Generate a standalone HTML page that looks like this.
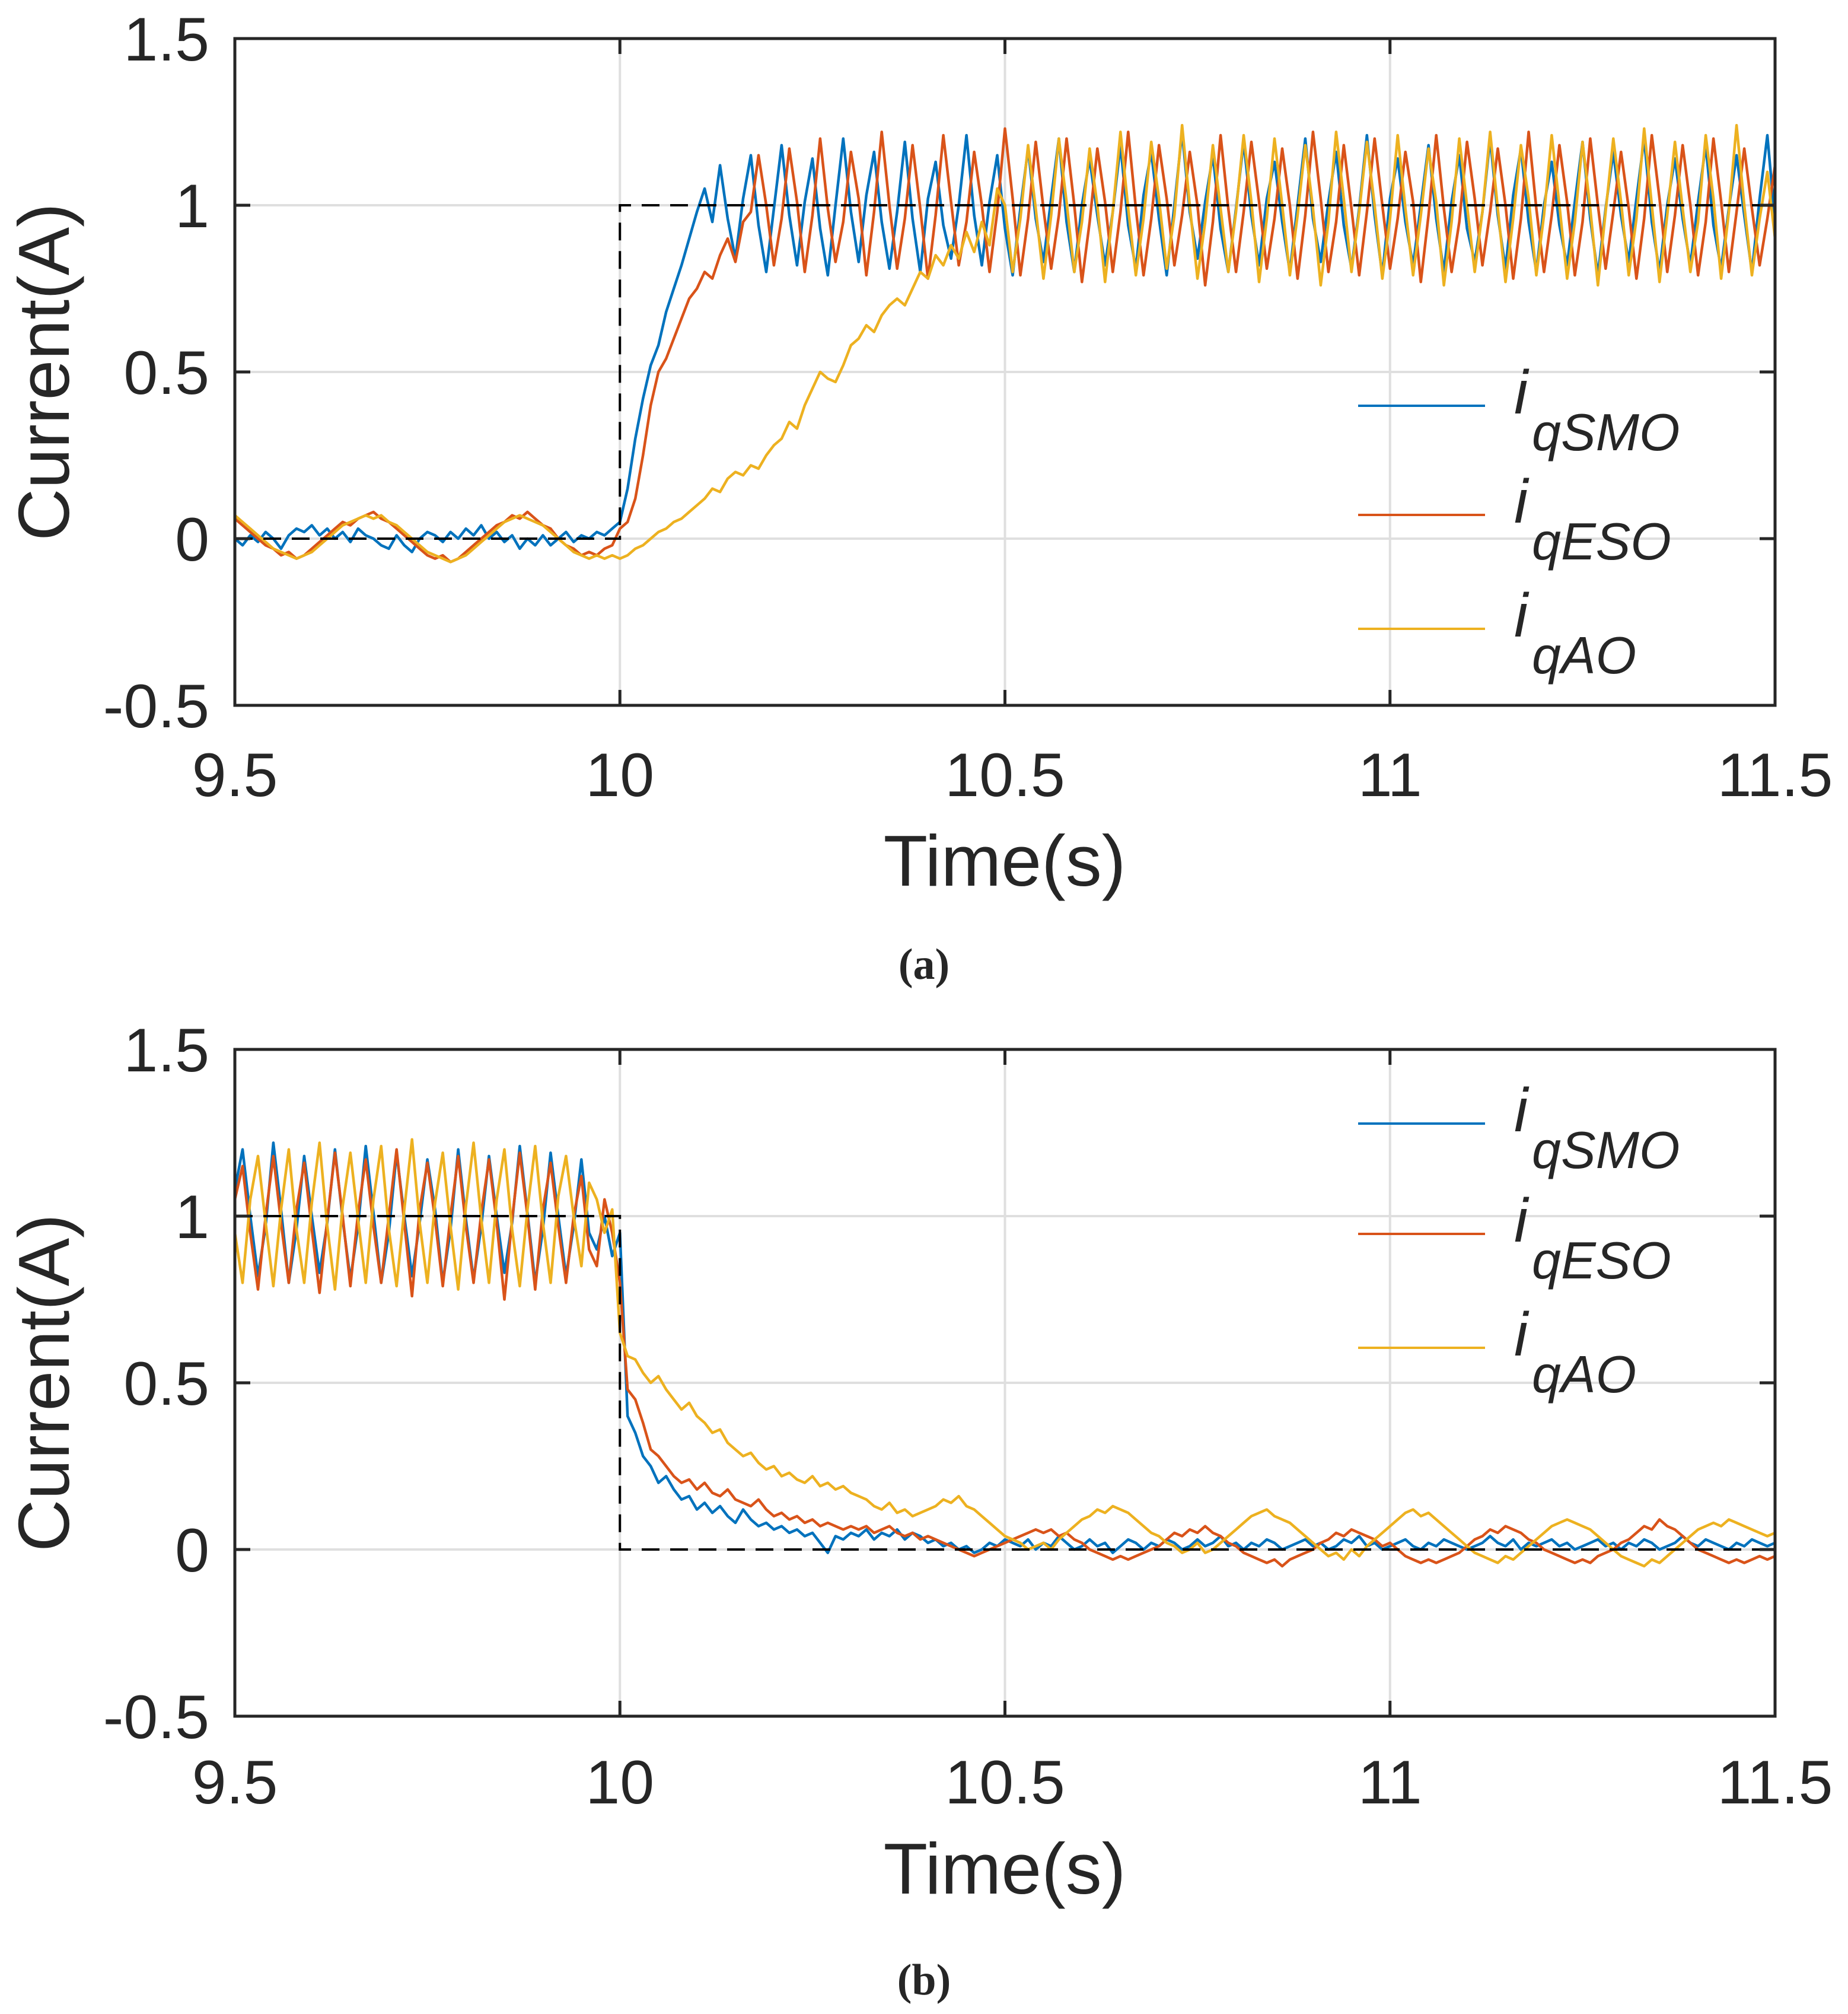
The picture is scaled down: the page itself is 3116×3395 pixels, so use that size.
<!DOCTYPE html>
<html>
<head>
<meta charset="utf-8">
<style>
html,body{margin:0;padding:0;background:#fff;}
svg{display:block;}
text{font-family:"Liberation Sans",sans-serif;fill:#262626;}
</style>
</head>
<body>
<svg id="fig" width="3116" height="3395" viewBox="0 0 3116 3395" xmlns="http://www.w3.org/2000/svg"></svg>
<script>
// ---- data (t = 9.5 .. 11.5, step 0.01) ----
const tStart = 9.5, tEnd = 11.5;
const xTicks = [9.5, 10, 10.5, 11, 11.5];
const xTickLabels = ["9.5", "10", "10.5", "11", "11.5"];
const yTicks = [-0.5, 0, 0.5, 1, 1.5];
const yTickLabels = ["-0.5", "0", "0.5", "1", "1.5"];
const seriesNames = ["qSMO", "qESO", "qAO"];
const stepTime = 10;
const refA = [0, 1];
const refB = [1, 0];

const aSMO = [0.0,-0.02,0.01,-0.01,0.02,0.0,-0.03,0.01,0.03,0.02,
0.04,0.01,0.03,0.0,0.02,-0.01,0.03,0.01,0.0,-0.02,
-0.03,0.01,-0.02,-0.04,0.0,0.02,0.01,-0.01,0.02,0.0,
0.03,0.01,0.04,0.0,0.02,-0.01,0.01,-0.03,0.0,-0.02,
0.01,-0.02,0.0,0.02,-0.01,0.01,0.0,0.02,0.01,0.03,
0.05,
0.15,0.3,0.42,0.52,0.58,0.68,0.75,0.82,0.9,0.98,1.05,0.95,
1.12,0.96,0.84,1.02,1.15,0.94,0.8,0.99,1.18,0.97,0.82,1.01,1.14,0.93,0.79,1.0,1.2,0.98,0.83,1.03,1.16,0.95,0.81,0.98,1.19,0.96,0.8,1.02,1.13,0.94,0.84,1.0,1.21,0.97,0.82,1.01,1.15,0.93,0.79,0.99,
1.17,0.96,0.83,1.02,1.2,0.95,0.8,1.0,1.14,0.97,0.82,0.98,1.18,0.94,0.81,1.03,1.16,0.96,0.79,1.0,1.22,0.98,0.84,1.01,1.15,0.93,0.8,0.99,1.19,0.97,0.82,1.02,1.13,0.95,0.8,1.0,1.2,0.96,0.83,1.01,
1.16,0.94,0.81,0.99,1.21,0.97,0.79,1.02,1.14,0.95,0.82,1.0,1.18,0.96,0.8,1.01,1.15,0.93,0.83,0.98,1.2,0.97,0.81,1.03,1.17,0.95,0.8,1.0,1.13,0.94,0.82,1.01,1.19,0.96,0.79,0.99,1.16,0.97,0.83,1.02,
1.2,0.95,0.8,1.0,1.14,0.96,0.82,1.01,1.18,0.94,0.81,0.99,1.15,0.97,0.8,1.02,1.21,0.95];

const aESO = [0.06,0.04,0.02,0.0,-0.02,-0.03,-0.05,-0.04,-0.06,-0.05,
-0.03,-0.01,0.01,0.03,0.05,0.04,0.06,0.07,0.08,0.06,
0.05,0.03,0.01,-0.01,-0.03,-0.05,-0.06,-0.05,-0.07,-0.06,
-0.04,-0.02,0.0,0.02,0.04,0.05,0.07,0.06,0.08,0.06,
0.04,0.03,0.0,-0.02,-0.03,-0.05,-0.04,-0.05,-0.03,-0.02,
0.03,
0.05,0.12,0.25,0.4,0.5,0.54,0.6,0.66,0.72,0.75,0.8,0.78,0.85,0.9,0.83,0.95,
0.98,1.15,1.0,0.82,0.96,1.17,1.01,0.8,0.97,1.2,0.99,0.83,0.95,1.16,1.02,0.79,0.98,1.22,1.0,0.81,0.96,1.18,0.99,0.78,0.97,1.21,1.01,0.82,0.95,1.16,1.0,0.8,0.98,1.23,1.02,0.79,0.96,1.19,0.99,0.81,
0.97,1.2,1.0,0.77,0.95,1.17,1.01,0.8,0.98,1.22,0.99,0.79,0.96,1.18,1.02,0.82,0.97,1.16,1.0,0.76,0.95,1.21,0.99,0.8,0.98,1.19,1.01,0.81,0.96,1.17,1.0,0.78,0.97,1.22,1.02,0.8,0.95,1.18,0.99,0.79,
0.98,1.2,1.0,0.81,0.96,1.16,1.01,0.77,0.97,1.21,0.99,0.8,0.95,1.19,1.02,0.82,0.98,1.17,1.0,0.78,0.96,1.22,0.99,0.8,0.97,1.18,1.01,0.79,0.95,1.2,1.0,0.81,0.98,1.16,0.99,0.78,0.96,1.21,1.02,0.8,
0.97,1.18,1.0,0.79,0.95,1.2,1.01,0.8,0.98,1.17,0.99,0.82,0.96,1.12];

const aAO = [0.07,0.05,0.03,0.01,-0.01,-0.03,-0.04,-0.05,-0.06,-0.05,
-0.04,-0.02,0.0,0.02,0.04,0.05,0.06,0.07,0.06,0.07,
0.05,0.04,0.02,0.0,-0.02,-0.04,-0.05,-0.06,-0.07,-0.06,
-0.05,-0.03,-0.01,0.01,0.03,0.05,0.06,0.07,0.06,0.05,
0.04,0.02,0.0,-0.02,-0.04,-0.05,-0.06,-0.05,-0.06,-0.05,
-0.06,-0.05,-0.03,-0.02,0.0,0.02,0.03,0.05,0.06,0.08,
0.1,0.12,0.15,0.14,0.18,0.2,0.19,0.22,0.21,0.25,
0.28,0.3,0.35,0.33,0.4,0.45,0.5,0.48,0.47,0.52,
0.58,0.6,0.64,0.62,0.67,0.7,0.72,0.7,0.75,0.8,
0.78,0.85,0.82,0.88,0.84,0.92,0.86,0.95,0.88,1.05,
1.0,0.8,0.96,1.18,0.99,0.78,0.97,1.2,1.01,0.8,0.95,1.17,1.0,0.77,0.98,1.22,0.99,0.79,0.96,1.19,1.02,0.81,0.97,1.24,1.0,0.78,0.95,1.18,0.99,0.8,0.98,1.21,1.01,0.77,0.96,1.2,1.0,0.79,0.97,1.18,
0.99,0.76,0.95,1.22,1.02,0.8,0.98,1.19,1.0,0.78,0.96,1.21,0.99,0.79,0.97,1.17,1.01,0.76,0.95,1.2,1.0,0.8,0.98,1.22,0.99,0.77,0.96,1.18,1.02,0.79,0.97,1.21,1.0,0.78,0.95,1.19,0.99,0.76,0.98,1.2,
1.01,0.79,0.96,1.23,1.0,0.77,0.97,1.19,0.99,0.8,0.95,1.21,1.02,0.78,0.98,1.24,1.0,0.79,0.96,1.1,0.9];

const bSMO = [1.08,1.2,1.0,0.82,0.97,1.22,1.02,0.8,0.96,1.18,1.0,0.83,0.98,1.2,0.99,0.81,0.97,1.21,1.01,0.8,0.95,1.19,1.0,0.82,0.98,1.17,1.02,0.8,0.96,1.2,0.99,0.81,0.97,1.18,1.0,0.83,0.98,1.21,1.01,0.8,0.96,1.19,1.0,0.82,0.97,1.17,0.95,0.9,1.0,0.88,0.95,
0.4,0.35,0.28,0.25,0.2,0.22,0.18,0.15,0.16,0.12,
0.14,0.11,0.13,0.1,0.08,0.12,0.09,0.07,0.08,0.06,
0.07,0.05,0.06,0.04,0.05,0.02,-0.01,0.04,0.03,0.05,
0.04,0.06,0.03,0.05,0.04,0.06,0.03,0.05,0.04,0.02,
0.03,0.01,0.02,0.0,0.01,-0.01,0.0,0.02,0.01,0.03,
0.02,0.01,0.03,0.0,0.02,0.01,0.04,0.02,0.0,0.01,
0.03,0.01,0.02,-0.01,0.01,0.03,0.02,0.0,0.02,0.01,
0.03,0.02,0.0,0.01,0.03,0.01,0.02,0.04,0.01,0.02,
0.0,0.02,0.01,0.03,0.02,0.0,0.01,0.02,0.03,0.01,
0.02,0.0,0.01,0.03,0.02,0.04,0.01,0.02,0.0,0.01,
0.02,0.03,0.01,0.0,0.02,0.01,0.03,0.02,0.01,0.0,
0.01,0.02,0.04,0.02,0.01,0.03,0.0,0.02,0.01,0.02,
0.03,0.01,0.02,0.0,0.01,0.02,0.03,0.01,0.02,0.0,
0.02,0.01,0.03,0.02,0.0,0.01,0.02,0.04,0.02,0.01,
0.03,0.02,0.01,0.0,0.02,0.01,0.03,0.02,0.01,0.02];

const bESO = [1.05,1.15,0.95,0.78,1.0,1.18,0.98,0.8,1.02,1.16,0.96,0.77,0.99,1.19,1.0,0.79,1.01,1.17,0.97,0.8,1.0,1.2,0.98,0.76,1.02,1.16,0.99,0.79,1.0,1.18,0.97,0.8,1.01,1.17,0.98,0.75,0.99,1.19,1.0,0.78,1.02,1.16,0.97,0.8,1.0,1.12,0.9,0.85,1.05,0.95,0.8,
0.48,0.45,0.38,0.3,0.28,0.25,0.22,0.2,0.21,0.18,
0.2,0.17,0.16,0.18,0.15,0.14,0.13,0.15,0.12,0.1,
0.11,0.09,0.1,0.08,0.09,0.07,0.08,0.07,0.06,0.07,
0.06,0.07,0.05,0.06,0.07,0.05,0.04,0.05,0.03,0.04,
0.03,0.02,0.01,0.0,-0.01,-0.02,-0.01,0.0,0.01,0.02,
0.03,0.04,0.05,0.06,0.05,0.06,0.04,0.05,0.03,0.02,
0.0,-0.01,-0.02,-0.03,-0.02,-0.03,-0.02,-0.01,0.0,0.01,
0.03,0.05,0.04,0.06,0.05,0.07,0.05,0.04,0.02,0.01,
-0.01,-0.02,-0.03,-0.04,-0.03,-0.05,-0.03,-0.02,-0.01,0.0,
0.02,0.03,0.05,0.04,0.06,0.05,0.04,0.03,0.01,0.02,
0.0,-0.02,-0.03,-0.04,-0.03,-0.04,-0.03,-0.02,-0.01,0.01,
0.03,0.04,0.06,0.05,0.07,0.06,0.05,0.03,0.02,0.0,
-0.01,-0.02,-0.03,-0.04,-0.03,-0.04,-0.02,-0.01,0.0,0.02,
0.03,0.05,0.07,0.06,0.09,0.07,0.06,0.04,0.02,0.0,
-0.01,-0.02,-0.03,-0.04,-0.03,-0.04,-0.03,-0.02,-0.03,-0.02];

const bAO = [0.95,0.8,1.05,1.18,0.98,0.79,1.02,1.2,0.96,0.8,1.04,1.22,0.97,0.78,1.03,1.19,0.99,0.8,1.05,1.21,0.96,0.79,1.02,1.23,0.98,0.8,1.04,1.19,0.97,0.78,1.03,1.22,0.99,0.8,1.05,1.2,0.96,0.79,1.02,1.21,0.98,0.8,1.06,1.18,1.0,0.85,1.1,1.05,0.95,1.02,0.65,
0.58,0.57,0.53,0.5,0.52,0.48,0.45,0.42,0.44,0.4,
0.38,0.35,0.36,0.32,0.3,0.28,0.29,0.26,0.24,0.25,
0.22,0.23,0.21,0.2,0.22,0.19,0.2,0.18,0.19,0.17,
0.16,0.15,0.13,0.12,0.14,0.11,0.12,0.1,0.11,0.12,
0.13,0.15,0.14,0.16,0.13,0.12,0.1,0.08,0.06,0.04,
0.03,0.02,0.0,0.01,0.02,0.0,0.03,0.05,0.07,0.09,
0.1,0.12,0.11,0.13,0.12,0.11,0.09,0.07,0.05,0.04,
0.02,0.01,-0.01,0.0,0.02,-0.01,0.0,0.02,0.04,0.06,
0.08,0.1,0.11,0.12,0.1,0.09,0.08,0.06,0.04,0.02,
0.0,-0.02,-0.01,-0.03,0.0,-0.02,0.01,0.03,0.05,0.07,
0.09,0.11,0.12,0.1,0.11,0.09,0.07,0.05,0.03,0.01,
-0.01,-0.02,-0.03,-0.04,-0.02,-0.03,-0.01,0.01,0.03,0.05,
0.07,0.08,0.09,0.08,0.07,0.06,0.04,0.02,0.0,-0.02,
-0.03,-0.04,-0.05,-0.03,-0.04,-0.02,0.0,0.02,0.04,0.06,
0.07,0.08,0.07,0.09,0.08,0.07,0.06,0.05,0.04,0.05];

const colors = ["#0072BD", "#D95319", "#EDB120"];
const NS = "http://www.w3.org/2000/svg";
const svg = document.getElementById("fig");

function mk(tag, attrs, parent) {
  const e = document.createElementNS(NS, tag);
  for (const k in attrs) e.setAttribute(k, attrs[k]);
  (parent || svg).appendChild(e);
  return e;
}

const X0 = 396, X1 = 2993;
function xScale(t) { return X0 + (t - tStart) / (tEnd - tStart) * (X1 - X0); }

function drawPanel(id, top, bottom, series, ref, legendY, captionText, captionY, tickBase, titleBase) {
  const g = mk("g", {});
  
  
  const yScale = v => bottom - (v - (-0.5)) / 2 * (bottom - top);

  xTicks.forEach((t, i) => {
    if (i === 0 || i === xTicks.length - 1) return;
    const l = mk("line", {x1: xScale(t), x2: xScale(t), y1: top, y2: bottom, stroke: "#dfdfdf", "stroke-width": 4}, g);
    
    
  });
  yTicks.forEach((v, i) => {
    if (i === 0 || i === yTicks.length - 1) return;
    const l = mk("line", {x1: X0, x2: X1, y1: yScale(v), y2: yScale(v), stroke: "#dfdfdf", "stroke-width": 4}, g);
    
    
  });

  series.forEach((arr, si) => {
    const n = arr.length;
    let d = "";
    arr.forEach((v, i) => {
      const t = tStart + i * (tEnd - tStart) / (n - 1);
      d += (i ? "L" : "M") + xScale(t).toFixed(1) + "," + yScale(v).toFixed(1);
    });
    const p = mk("path", {d: d, fill: "none", stroke: colors[si], "stroke-width": 4.5, "stroke-linejoin": "round"}, g);
    
    
  });

  const rd = "M" + xScale(tStart) + "," + yScale(ref[0]) + "L" + xScale(stepTime) + "," + yScale(ref[0]) +
             "L" + xScale(stepTime) + "," + yScale(ref[1]) + "L" + xScale(tEnd) + "," + yScale(ref[1]);
  const rp = mk("path", {d: rd, fill: "none", stroke: "#000", "stroke-width": 4, "stroke-dasharray": "30 18"}, g);
  
  

  const box = mk("rect", {x: X0, y: top, width: X1 - X0, height: bottom - top, fill: "none", stroke: "#262626", "stroke-width": 5}, g);
  
  

  xTicks.forEach((t, i) => {
    const x = xScale(t);
    mk("line", {x1: x, x2: x, y1: bottom, y2: bottom - 26, stroke: "#262626", "stroke-width": 5}, g);
    mk("line", {x1: x, x2: x, y1: top, y2: top + 26, stroke: "#262626", "stroke-width": 5}, g);
    const tx = mk("text", {x: x, y: tickBase, "text-anchor": "middle", "font-size": 104}, g);
    tx.textContent = xTickLabels[i];
    
    
  });
  yTicks.forEach((v, i) => {
    const y = yScale(v);
    mk("line", {x1: X0, x2: X0 + 26, y1: y, y2: y, stroke: "#262626", "stroke-width": 5}, g);
    mk("line", {x1: X1, x2: X1 - 26, y1: y, y2: y, stroke: "#262626", "stroke-width": 5}, g);
    const ty = mk("text", {x: 353, y: y + 37, "text-anchor": "end", "font-size": 104}, g);
    ty.textContent = yTickLabels[i];
    
    
  });

  const xt = mk("text", {x: 1694, y: titleBase, "text-anchor": "middle", "font-size": 122}, g);
  xt.textContent = "Time(s)";
  
  
  const cy = (top + bottom) / 2;
  const yt = mk("text", {x: 0, y: 0, "text-anchor": "middle", "font-size": 122, transform: "translate(116," + cy + ") rotate(-90)"}, g);
  yt.textContent = "Current(A)";
  
  

  const lg = mk("g", {}, g);
  
  
  legendY.forEach((ly, si) => {
    const e = mk("g", {}, lg);
    
    
    mk("line", {x1: 2290, x2: 2504, y1: ly, y2: ly, stroke: colors[si], "stroke-width": 4}, e);
    const ti = mk("text", {x: 2553, y: ly + 13, "font-size": 104, "font-style": "italic", fill: "#000"}, e);
    ti.textContent = "i";
    const ts = mk("text", {x: 2583, y: ly + 75, "font-size": 88, "font-style": "italic", fill: "#000"}, e);
    ts.textContent = seriesNames[si];
  });

  const cap = mk("text", {x: 1558, y: captionY, "text-anchor": "middle", "font-size": 74, "font-weight": "bold", fill: "#000"}, g);
  cap.setAttribute("style", "font-family:'Liberation Serif',serif");
  cap.textContent = captionText;
  
  
}

drawPanel("a", 65, 1189, [aSMO, aESO, aAO], refA, [684, 868, 1060], "(a)", 1650, 1342, 1493);
drawPanel("b", 1769, 2893, [bSMO, bESO, bAO], refB, [1894, 2080, 2272], "(b)", 3362, 3040, 3192);
</script>
</body>
</html>
